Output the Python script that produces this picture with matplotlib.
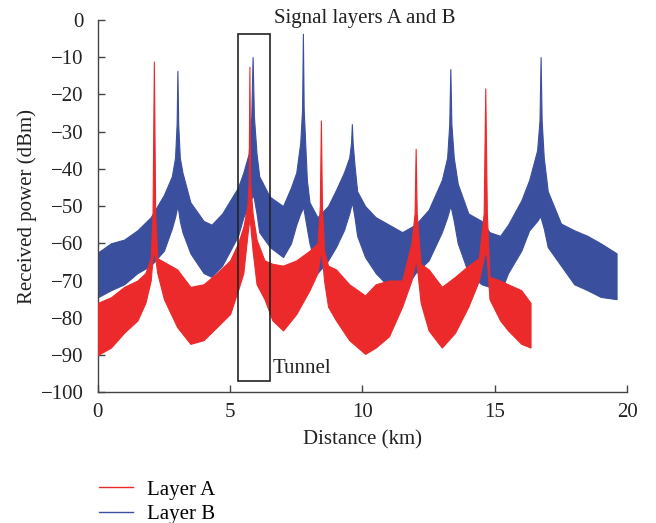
import matplotlib
matplotlib.use("Agg")
import matplotlib.pyplot as plt
from matplotlib.lines import Line2D
from matplotlib.patches import Rectangle

plt.rcParams['font.family'] = ['Liberation Serif', 'DejaVu Serif']

# ---- Layer B (blue): envelope ----
x_b = [0, 0.5, 1.0, 1.5, 2.0, 2.5, 2.8, 2.92, 2.98, 3.01, 3.04, 3.1, 3.2, 3.5, 4.0, 4.3,
       4.7, 5.0, 5.3, 5.5, 5.7, 5.8, 5.85, 5.9, 6.0, 6.1, 6.5, 7.0, 7.3, 7.5, 7.65, 7.72,
       7.75, 7.78, 7.9, 8.0, 8.3, 8.7, 9.0, 9.3, 9.5, 9.57, 9.6, 9.63, 9.7, 9.8, 10.1,
       10.5, 11.0, 11.5, 12.0, 12.5, 13.0, 13.2, 13.28, 13.32, 13.36, 13.45, 13.6, 14.0,
       14.5, 14.8, 15.2, 15.5, 16.0, 16.3, 16.6, 16.69, 16.73, 16.77, 16.85, 17.0, 17.5,
       18.0, 18.5, 19.0, 19.6]
upper_b = [-62.5, -60, -59, -56.5, -53, -47, -42, -37, -28, -13.7, -28, -37, -41, -49, -54, -55,
           -52, -48.5, -45, -41, -36, -26, -10, -26, -36, -42, -47.5, -50, -45, -41, -33, -24,
           -3.7, -24, -43, -49, -53, -50, -45.7, -41, -37, -33, -28, -33, -39, -46, -50,
           -53, -55, -57, -55, -51, -43, -37, -28, -13.2, -28, -37, -44, -52,
           -54, -57, -58, -55, -48.5, -43, -35, -27, -10, -27, -37, -46, -54.7,
           -56.5, -58, -60, -62.7]
lower_b = [-74.5, -72.6, -71, -68, -66, -62, -56, -53, -51, -50, -51, -54, -57, -62.7, -68, -69,
           -66, -62, -58, -53, -50, -48, -47, -48, -52, -57, -61, -63.7, -60, -55, -52, -51,
           -50, -51, -56, -60, -68, -64.6, -61, -56.5, -52, -50, -49, -50, -53, -58, -63.7,
           -68, -71.7, -73.5, -68, -64.6, -57, -53, -51, -50, -51, -54, -60, -68,
           -71, -71.7, -73.5, -68, -62, -56.5, -54, -53, -53, -54, -56, -61, -66,
           -71, -72.6, -74.4, -75]

# ---- Layer A (red): envelope ----
x_a = [0, 0.5, 1.0, 1.5, 1.8, 2.0, 2.07, 2.12, 2.17, 2.25, 2.5, 3.0, 3.5, 4.0, 4.5, 5.0,
       5.3, 5.5, 5.65, 5.7, 5.73, 5.76, 5.85, 6.0, 6.3, 6.6, 7.0, 7.5, 8.0, 8.3, 8.39, 8.43,
       8.47, 8.55, 8.7, 9.0, 9.5, 10.1, 10.5, 11.0, 11.5, 11.85, 11.97, 12.01, 12.05, 12.2,
       12.5, 13.0, 13.5, 14.0, 14.4, 14.58, 14.64, 14.7, 14.8, 15.2, 15.5, 16.0, 16.35]
upper_a = [-76, -74.5, -71.7, -70, -68, -64, -52, -11.2, -52, -64, -65, -67, -71.7, -71, -68, -64.6,
           -60, -55.6, -50, -44, -12.6, -44, -52, -59, -64.6, -65.5, -66, -64.6, -62, -60, -50, -27,
           -50, -62, -66, -67, -71, -74, -71, -70, -70, -60, -52, -34.6, -52, -65.5,
           -67, -71.7, -69, -66, -64, -52, -18.4, -52, -69, -70, -71, -72.6, -76]
lower_a = [-90, -88, -84, -80.7, -76, -70, -64, -62, -64, -68, -75, -82.5, -87, -86, -82.5, -79,
           -72.6, -68, -58, -55, -54, -55, -62, -71, -75, -80.7, -83.4, -79, -72.6, -68, -64, -62,
           -64, -70, -77, -80.7, -86, -89.7, -88, -85, -77, -70, -66, -64, -66, -76,
           -83.4, -88, -84, -77, -70, -64, -62, -64, -75, -80.7, -83.4, -87, -88]

labels = ['Layer A', 'Layer B']
xticks = [0, 5, 10, 15, 20]
yticks = [0, -10, -20, -30, -40, -50, -60, -70, -80, -90, -100]
tunnel_x = (5.29, 6.49)
tunnel_y = (-97.1, -3.85)

RED = '#EC2A2B'
BLUE = '#3B4F9F'
AXC = '#444444'
TXT = '#222222'
FS = 15

fig = plt.figure(figsize=(6.56, 5.23), dpi=100)
ax = fig.add_axes([0.149, 0.250, 0.807, 0.712])

ax.fill_between(x_b, lower_b, upper_b, color=BLUE, lw=0.8, edgecolor=BLUE, zorder=2)
ax.fill_between(x_a, lower_a, upper_a, color=RED, lw=0.8, edgecolor=RED, zorder=3)

ax.add_patch(Rectangle((tunnel_x[0], tunnel_y[0]), tunnel_x[1] - tunnel_x[0],
                       tunnel_y[1] - tunnel_y[0], fill=False, ec='#222222', lw=1.2, zorder=5))

ax.set_xlim(0, 20)
ax.set_ylim(-100, 0)
ax.set_xticks(xticks)
ax.set_yticks(yticks)
for s in ['top', 'right']:
    ax.spines[s].set_visible(False)
for s in ['left', 'bottom']:
    ax.spines[s].set_color(AXC)
    ax.spines[s].set_linewidth(1.0)
ax.tick_params(direction='in', length=5, width=1.0, color=AXC, labelsize=FS,
               labelcolor=TXT)
ax.tick_params(axis='x', pad=8)
ax.tick_params(axis='y', pad=10)
ax.set_xlabel('Distance (km)', fontsize=FS, color=TXT, labelpad=6)
ax.set_ylabel('Received power (dBm)', fontsize=FS, color=TXT, labelpad=3)

ax.text(10.07, 0.3, 'Signal layers A and B', ha='center', va='center', fontsize=FS,
        color=TXT, clip_on=False)
ax.text(6.6, -93.6, 'Tunnel', ha='left', va='center', fontsize=FS, color=TXT)

handles = [Line2D([], [], color=RED, lw=1.0), Line2D([], [], color=BLUE, lw=1.0)]
leg = fig.legend(handles, labels, loc='upper left', frameon=False, fontsize=FS,
                 handlelength=1.63, handletextpad=0.67, labelspacing=0.24,
                 borderpad=0, borderaxespad=0)
leg.set_bbox_to_anchor((0.151, 1 - 480 / 523), transform=fig.transFigure)

fig.savefig('out.png', dpi=100)
